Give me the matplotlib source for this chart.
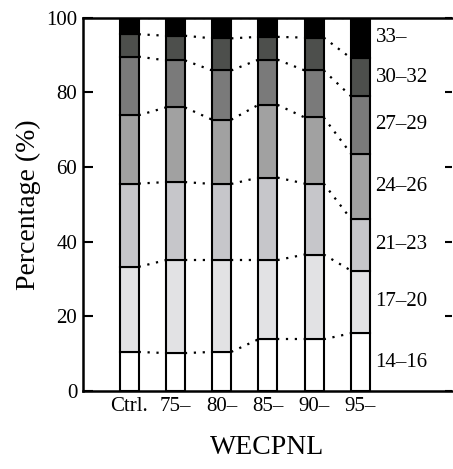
import numpy as np
import matplotlib
matplotlib.use("Agg")
import matplotlib.pyplot as plt

plt.rcParams['font.family'] = ['Liberation Serif', 'DejaVu Serif']

groups = ['Ctrl.', '75–', '80–', '85–', '90–', '95–']
classes = ['14–16', '17–20', '21–23', '24–26', '27–29', '30–32', '33–']
# cumulative percentage at the top of each class, per group
cum = np.array([
    [10.5, 33.3, 55.6, 73.9, 89.6, 95.6, 100],
    [10.2, 35.1, 56.0, 76.0, 88.6, 95.2, 100],
    [10.5, 35.1, 55.5, 72.7, 85.9, 94.5, 100],
    [13.9, 35.1, 57.2, 76.7, 88.8, 94.9, 100],
    [13.9, 36.6, 55.6, 73.3, 85.9, 94.7, 100],
    [15.5, 32.3, 46.1, 63.6, 79.0, 89.2, 100],
])
colors = ['#ffffff', '#e2e2e4', '#c6c6ca', '#a1a1a1', '#7a7a7a', '#4d4f4c', '#000000']

fig = plt.figure(figsize=(4.53, 4.69), dpi=100)
ax = fig.add_axes([0.183, 0.166, 0.815, 0.796])

x = np.arange(len(groups))
w = 0.41
bottoms = np.zeros(len(groups))
for k in range(len(classes)):
    h = cum[:, k] - bottoms
    ax.bar(x, h, w, bottom=bottoms, color=colors[k], edgecolor='black', linewidth=1.5, zorder=3)
    bottoms = cum[:, k].copy()

# dotted lines joining the class boundaries of neighbouring bars
for k in range(len(classes)):
    for i in range(len(groups) - 1):
        ax.plot([x[i] + w / 2, x[i + 1] - w / 2], [cum[i, k], cum[i + 1, k]],
                ls=(0, (1, 3)), color='black', lw=1.6, zorder=2)

# class labels beside the last bar
prev = 0
for k, lab in enumerate(classes):
    ax.text(x[-1] + w / 2 + 0.12, (prev + cum[-1, k]) / 2, lab,
            ha='left', va='center', fontsize=15)
    prev = cum[-1, k]

ax.set_xlim(-1, 6.98)
ax.set_ylim(0, 100)
ax.set_xticks(x)
ax.set_xticklabels(groups, fontsize=15)
ax.tick_params(axis='x', length=0, pad=4)
ax.set_yticks([0, 20, 40, 60, 80, 100])
ax.tick_params(axis='y', which='both', direction='in', length=7, width=1.5,
               labelsize=15, pad=4)
ax.tick_params(axis='y', right=True)
ax.yaxis.set_tick_params(which='major', length=7)
for t in ax.yaxis.get_major_ticks():
    t.tick2line.set_markersize(5)
for s in ['left', 'bottom', 'top']:
    ax.spines[s].set_linewidth(1.8)
ax.spines['right'].set_visible(False)

ax.set_ylabel('Percentage (%)', fontsize=20, labelpad=4)
ax.set_xlabel('WECPNL', fontsize=20, labelpad=14)

fig.savefig('out.png', dpi=100)
